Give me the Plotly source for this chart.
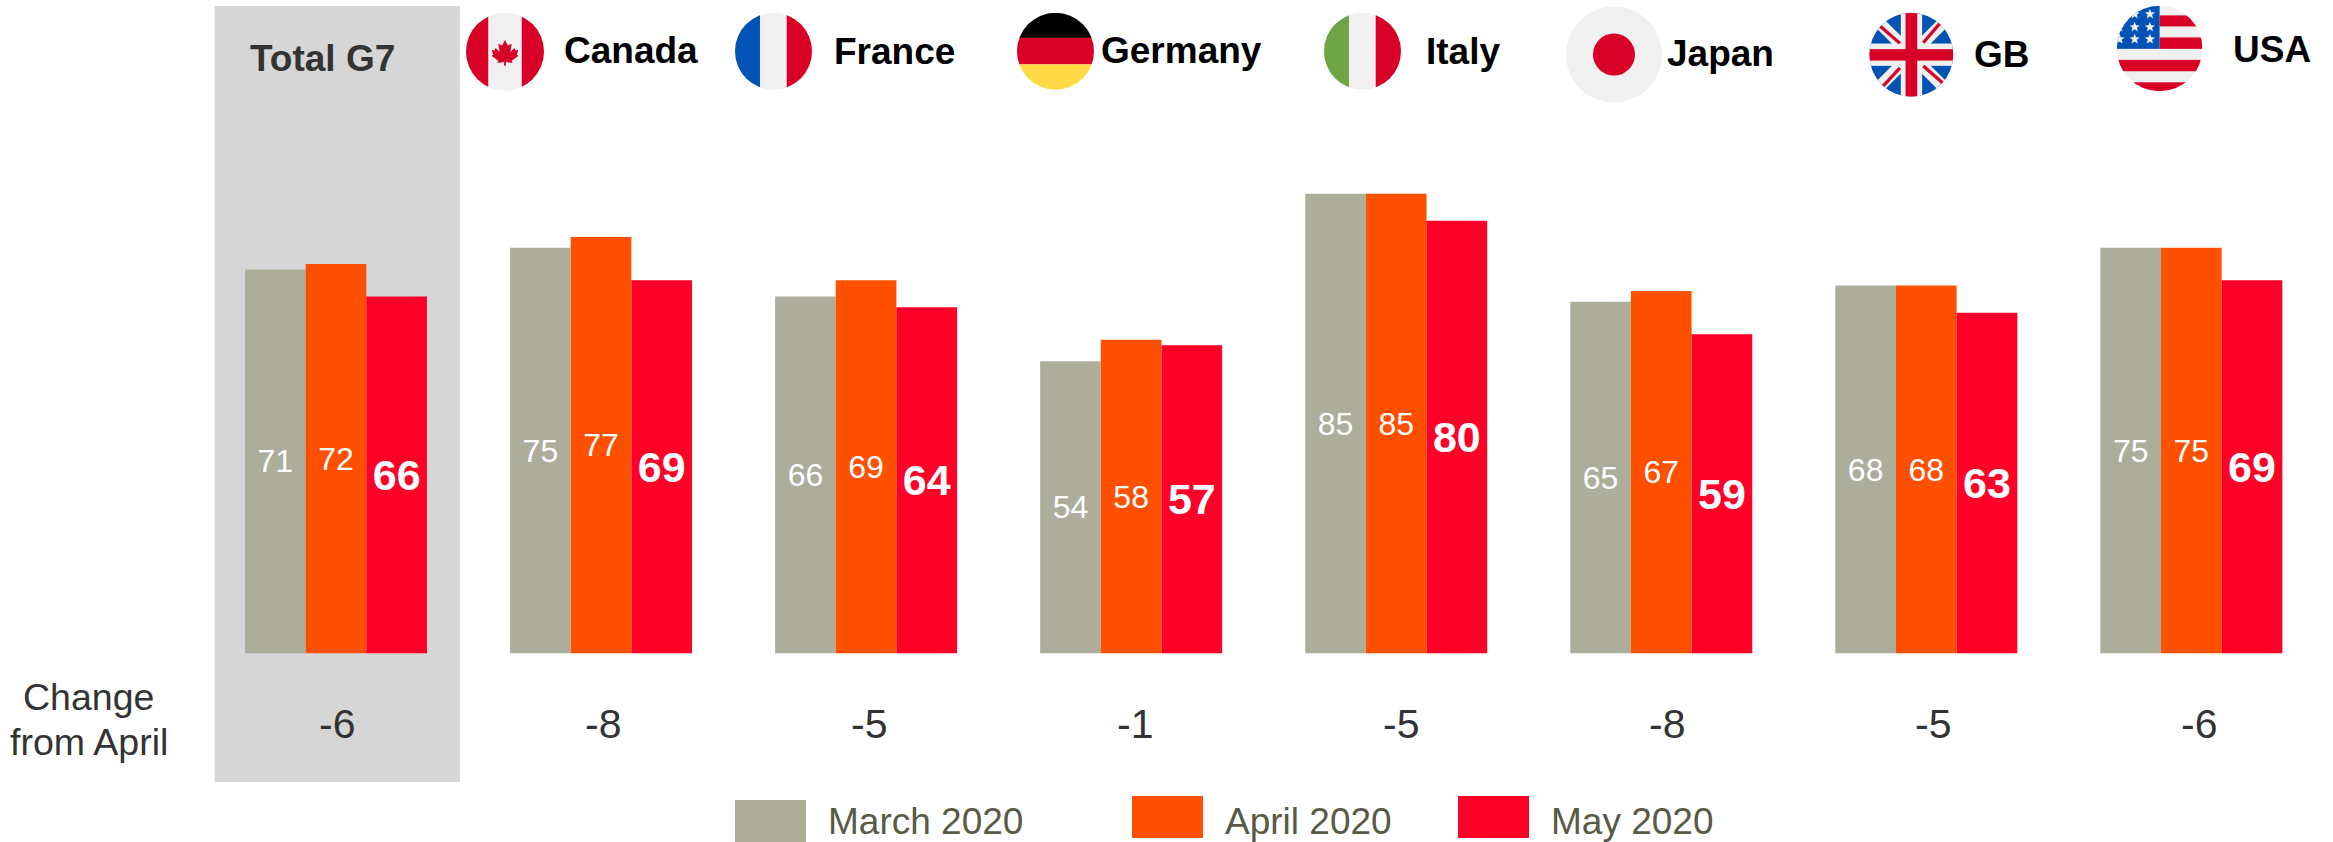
import base64
import math
import plotly.graph_objects as go

W, H = 2333, 842

categories = ["Total G7", "Canada", "France", "Germany", "Italy", "Japan", "GB", "USA"]
march_2020 = [71, 75, 66, 54, 85, 65, 68, 75]
april_2020 = [72, 77, 69, 58, 85, 67, 68, 75]
may_2020 = [66, 69, 64, 57, 80, 59, 63, 69]
change_from_april = ["-6", "-8", "-5", "-1", "-5", "-8", "-5", "-6"]
series_names = ["March 2020", "April 2020", "May 2020"]

C_MAR, C_APR, C_MAY = "#ADAD9C", "#FF5000", "#FF0028"
RED, OFFW, BLUE, GREEN, YEL = "#D80027", "#F0F0F0", "#0052B4", "#6DA544", "#FFDA44"


def px(x):
    return x / W


def py(y):
    return 1 - y / H


def star(cx, cy, r):
    pts = []
    for i in range(10):
        rr = r if i % 2 == 0 else r * 0.42
        a = -math.pi / 2 + i * math.pi / 5
        pts.append(f"{cx + rr * math.cos(a):.1f},{cy + rr * math.sin(a):.1f}")
    return f'<polygon points="{" ".join(pts)}" fill="{OFFW}"/>'


def rect(x, y, w, h, c):
    return f'<rect x="{x}" y="{y}" width="{w}" height="{h}" fill="{c}"/>'


def line(a, b, c, d, col, sw):
    return f'<line x1="{a}" y1="{b}" x2="{c}" y2="{d}" stroke="{col}" stroke-width="{sw}"/>'


leaf = ("256,179 275,216 300,204 291,258 318,232 325,248 343,244 334,276 "
        "343,284 300,316 305,330 262,324 262,348 250,348 250,324 207,330 212,316 "
        "169,284 178,276 169,244 187,248 194,232 221,258 212,204 237,216")

stars = "".join(star(x, y, 32) for x, y in [(198, 50), (107, 50), (198, 128), (107, 128), (16, 128),
                                            (198, 200), (107, 200), (16, 200)])

flags = {
    "Canada": (505, 51.7, 39, rect(0, 0, 512, 512, OFFW) + rect(0, 0, 146, 512, RED) + rect(366, 0, 146, 512, RED)
               + f'<polygon points="{leaf}" fill="{RED}"/>'),
    "France": (773.5, 51.3, 38.5, rect(0, 0, 512, 512, OFFW) + rect(0, 0, 166, 512, BLUE) + rect(344, 0, 168, 512, RED)),
    "Germany": (1055.5, 51.3, 38.5, rect(0, 0, 512, 167, "#000000") + rect(0, 167, 512, 176, RED) + rect(0, 343, 512, 169, YEL)),
    "Italy": (1362.5, 51.3, 38.5, rect(0, 0, 512, 512, OFFW) + rect(0, 0, 166, 512, GREEN) + rect(344, 0, 168, 512, RED)),
    "Japan": (1614, 54.5, 48, rect(0, 0, 512, 512, OFFW) + f'<circle cx="256" cy="256" r="112" fill="{RED}"/>'),
    "GB": (1911.3, 54.7, 42, rect(0, 0, 512, 512, BLUE)
           + line(0, 0, 512, 512, OFFW, 72) + line(512, 0, 0, 512, OFFW, 72)
           + rect(192, 0, 130, 512, OFFW) + rect(0, 188, 512, 136, OFFW)
           + line(65, 81, 187, 187, RED, 20) + line(329, 183, 430, 65, RED, 20)
           + line(81, 451, 187, 336, RED, 20) + line(329, 325, 451, 431, RED, 20)
           + rect(221, 0, 71, 512, RED) + rect(0, 222, 512, 70, RED)),
    "USA": (2159.6, 48.5, 42.8, rect(0, 0, 512, 512, OFFW)
            + rect(256, 58, 256, 66, RED) + rect(256, 190, 256, 68, RED)
            + rect(0, 324, 512, 68, RED) + rect(0, 458, 512, 54, RED)
            + rect(0, 0, 256, 258, BLUE) + stars),
}

header_text = {
    "Total G7": (248.5, 58.5, "#333333"),
    "Canada": (563, 50.5, "#000000"),
    "France": (833, 51.5, "#000000"),
    "Germany": (1099.5, 50.5, "#000000"),
    "Italy": (1424.5, 51.5, "#000000"),
    "Japan": (1665.5, 53.5, "#000000"),
    "GB": (1972.5, 54.5, "#000000"),
    "USA": (2231.5, 49.5, "#000000"),
}

FONT = "Liberation Sans, Arial, sans-serif"

fig = go.Figure()
for name, vals, col, size, bold in [
    (series_names[0], march_2020, C_MAR, 32, False),
    (series_names[1], april_2020, C_APR, 32, False),
    (series_names[2], may_2020, C_MAY, 43, True),
]:
    fig.add_trace(go.Bar(
        x=categories, y=vals, name=name, marker=dict(color=col, line=dict(width=0)),
        text=[f"<b>{v}</b>" if bold else str(v) for v in vals],
        textposition="inside", insidetextanchor="middle", textangle=0,
        constraintext="none", textfont=dict(color="#FFFFFF", size=size, family=FONT),
        hoverinfo="name+x+y",
    ))

images = []
for name, (cx, cy, r, body) in flags.items():
    svg = (f'<svg xmlns="http://www.w3.org/2000/svg" viewBox="0 0 512 512" width="512" height="512">'
           f'<defs><clipPath id="c"><circle cx="256" cy="256" r="256"/></clipPath></defs>'
           f'<g clip-path="url(#c)">{body}</g></svg>')
    uri = "data:image/svg+xml;base64," + base64.b64encode(svg.encode()).decode()
    images.append(dict(source=uri, xref="paper", yref="paper", x=px(cx - r), y=py(cy - r),
                       sizex=2 * r / W, sizey=2 * r / H, xanchor="left", yanchor="top",
                       sizing="stretch", layer="above"))

shapes = [
    dict(type="rect", xref="paper", yref="paper", x0=px(214.7), x1=px(460), y0=py(6), y1=py(782),
         fillcolor="#D6D6D6", line=dict(width=0), layer="below"),
]
for (x0, y0, col) in [(735, 800, C_MAR), (1132, 796, C_APR), (1458, 796, C_MAY)]:
    shapes.append(dict(type="rect", xref="paper", yref="paper", x0=px(x0), x1=px(x0 + 71),
                       y0=py(y0), y1=py(y0 + 42), fillcolor=col, line=dict(width=0)))

annotations = []
for name, (x, y, col) in header_text.items():
    annotations.append(dict(text=f"<b>{name}</b>", xref="paper", yref="paper", x=px(x), y=py(y),
                            xanchor="left", yanchor="middle", showarrow=False, borderpad=0,
                            font=dict(size=37, family=FONT, color=col)))
for i, c in enumerate(change_from_april):
    annotations.append(dict(text=c, xref="paper", yref="paper", x=px(337 + i * 266), y=py(723.5),
                            xanchor="center", yanchor="middle", showarrow=False, borderpad=0,
                            font=dict(size=41, family=FONT, color="#333333")))
for txt, y in [("Change", 696.5), ("from April", 741.5)]:
    annotations.append(dict(text=txt, xref="paper", yref="paper", x=px(88.5), y=py(y),
                            xanchor="center", yanchor="middle", showarrow=False, borderpad=0,
                            font=dict(size=37.5, family=FONT, color="#333333")))
for name, x in zip(series_names, [826.5, 1223.5, 1549.5]):
    annotations.append(dict(text=name, xref="paper", yref="paper", x=px(x), y=py(821.5),
                            xanchor="left", yanchor="middle", showarrow=False, borderpad=0,
                            font=dict(size=37, family=FONT, color="#595947")))

SPACING = 265.05
BASE = 653.5
left = 336 - SPACING / 2
fig.update_layout(
    width=W, height=H, autosize=False, margin=dict(l=0, r=0, t=0, b=0, pad=0),
    paper_bgcolor="#FFFFFF", plot_bgcolor="rgba(0,0,0,0)",
    barmode="group", bargap=1 - 182 / SPACING, bargroupgap=0, showlegend=False,
    xaxis=dict(domain=[px(left), px(left + 8 * SPACING)], range=[-0.5, 7.5], type="category",
               visible=False, fixedrange=True),
    yaxis=dict(domain=[py(BASE), 1], range=[0, BASE / 5.41], visible=False, fixedrange=True),
    images=images, shapes=shapes, annotations=annotations,
)

fig.write_html("out.html", config=dict(displayModeBar=False),
               post_script="document.body.style.margin='0';document.documentElement.style.overflow='hidden';")
